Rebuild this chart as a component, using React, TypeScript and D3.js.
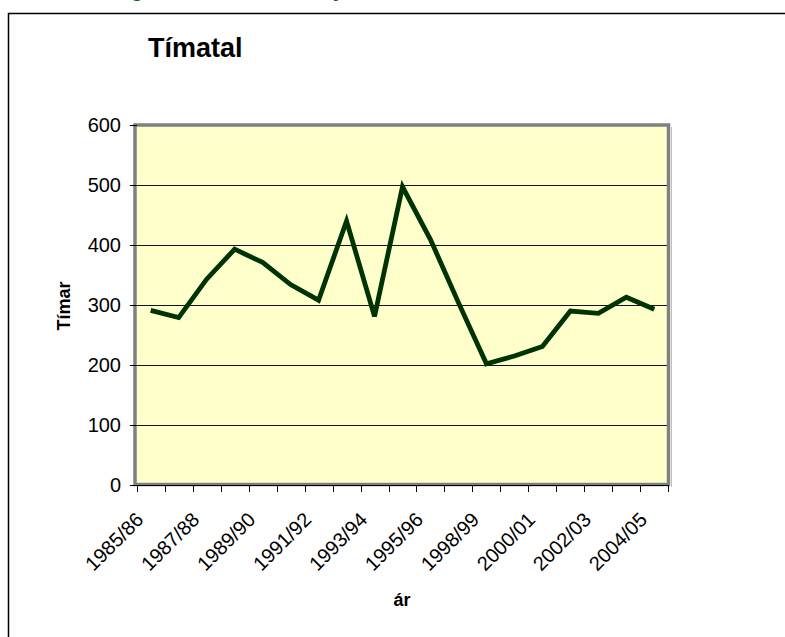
import React from "react";
import * as d3 from "d3";

const categories: string[] = [
  "1985/86", "1986/87", "1987/88", "1988/89", "1989/90", "1990/91", "1991/92",
  "1992/93", "1993/94", "1994/95", "1995/96", "1996/97", "1998/99", "1999/00",
  "2000/01", "2001/02", "2002/03", "2003/04", "2004/05",
];
const values: number[] = [
  291, 279, 343, 393, 371, 334, 308, 440, 281, 497, 409, 304, 202, 215, 231, 290, 286, 313, 293,
];
const yTicks: number[] = [0, 100, 200, 300, 400, 500, 600];
const shownLabels: string[] = [
  "1985/86", "1987/88", "1989/90", "1991/92", "1993/94", "1995/96", "1998/99", "2000/01", "2002/03", "2004/05",
];
const chartTitle = "Tímatal";
const yTitle = "Tímar";
const xTitle = "ár";

const W = 785;
const H = 637;
const FONT = "Arial, 'Liberation Sans', Helvetica, sans-serif";

export default function App() {
  const x = d3.scaleBand<string>().domain(categories).range([136.7, 668.3]).padding(0);
  const y = d3.scaleLinear().domain([0, 600]).range([485, 125]);
  const left = 136.7;
  const right = 668.3;
  const bw = x.bandwidth();

  const line = d3
    .line<number>()
    .x((_, i) => (x(categories[i]) as number) + bw / 2)
    .y((d) => y(d));

  const tickXs = categories.map((c) => x(c) as number).concat([right]);

  return (
    <svg
      width={W}
      height={H}
      style={{ position: "absolute", left: 0, top: 0, background: "#fff" }}
      fontFamily={FONT}
    >
      {/* cut-off heading remnants */}
      <text x={131} y={-3} fontSize={20} fontWeight="bold" fill="#006400">g</text>
      <text x={333} y={-3} fontSize={20} fontWeight="bold" fill="#006400">y</text>

      {/* chart frame */}
      <rect x={8.5} y={13.5} width={W + 20} height={H + 20} fill="none" stroke="#000" strokeWidth={1.5} />

      {/* title */}
      <text x={148} y={57} fontSize={27} fontWeight="bold" fill="#000">{chartTitle}</text>

      {/* plot area */}
      <rect x={left} y={125} width={right - left} height={360} fill="#FFFFCC" />
      {/* grid lines */}
      {yTicks.slice(1, -1).map((t) => (
        <line key={t} x1={left} x2={right} y1={Math.round(y(t)) + 0.5} y2={Math.round(y(t)) + 0.5} stroke="#111" strokeWidth={1} />
      ))}
      {/* plot border */}
      <rect x={135} y={125} width={533.5} height={359.5} fill="none" stroke="#808080" strokeWidth={3.5} />
      <line x1={671.5} x2={671.5} y1={127} y2={487} stroke="#c0c0c0" strokeWidth={1} />

      {/* y axis ticks and labels */}
      {yTicks.map((t) => (
        <g key={t}>
          <line x1={130} x2={137} y1={Math.round(y(t)) + 0.5} y2={Math.round(y(t)) + 0.5} stroke="#000" strokeWidth={1} />
          <text x={121} y={y(t) + 7} fontSize={20} textAnchor="end" fill="#000">{t}</text>
        </g>
      ))}

      {/* x axis */}
      <line x1={left - 1} x2={right} y1={485.5} y2={485.5} stroke="#000" strokeWidth={1.2} />
      {tickXs.map((tx, i) => (
        <line key={i} x1={Math.round(tx) + 0.5} x2={Math.round(tx) + 0.5} y1={485} y2={492} stroke="#000" strokeWidth={1} />
      ))}
      {categories.map((c) =>
        shownLabels.includes(c) ? (
          <text
            key={c}
            transform={`translate(${(x(c) as number) + bw / 2 - 6},521) rotate(-45)`}
            fontSize={20}
            textAnchor="end"
            fill="#000"
          >
            {c}
          </text>
        ) : null
      )}

      {/* data line */}
      <path d={line(values) || ""} fill="none" stroke="#003300" strokeWidth={4.8} strokeLinejoin="miter" />

      {/* axis titles */}
      <text transform="translate(70,306) rotate(-90)" fontSize={18} fontWeight="bold" textAnchor="middle" fill="#000">
        {yTitle}
      </text>
      <text x={402} y={606} fontSize={18} fontWeight="bold" textAnchor="middle" fill="#000">{xTitle}</text>
    </svg>
  );
}
